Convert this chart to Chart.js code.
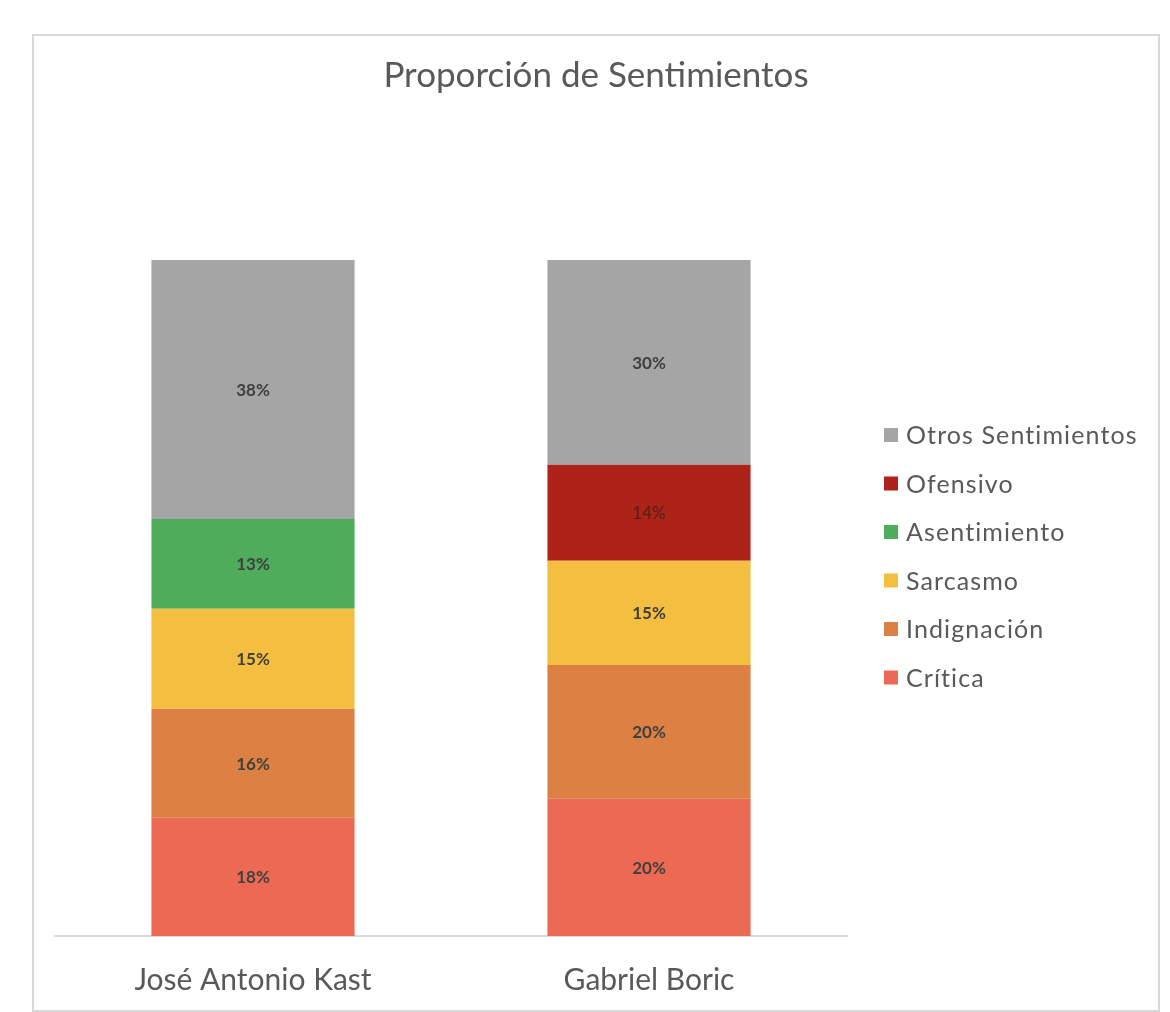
<!DOCTYPE html>
<html lang="es">
<head>
<meta charset="utf-8">
<title>Proporción de Sentimientos</title>
<script src="https://cdn.jsdelivr.net/npm/chart.js@4.4.1/dist/chart.umd.min.js"></script>
<style>
    html, body {
        margin: 0;
        padding: 0;
        background: #ffffff;
    }
    #wrap {
        position: relative;
        width: 1170px;
        height: 1012px;
        overflow: hidden;
    }
    #frame {
        position: absolute;
        left: 32px;
        top: 34px;
        width: 1128px;
        height: 978px;
        border: 2px solid #d9d9d9;
        box-sizing: border-box;
    }
    #sentChart {
        position: absolute;
        left: 0;
        top: 0;
    }
</style>
</head>
<body>
<div id="wrap">
    <div id="frame"></div>
    <canvas id="sentChart" width="1170" height="1012"></canvas>
</div>

<script>
// ===============================
// Proporción de Sentimientos
// ===============================

const candidates = ["José Antonio Kast", "Gabriel Boric"];

// values in % of each candidate (bottom to top of the stack)
const critica      = [17.5, 20.3];
const indignacion  = [16.1, 19.8];
const sarcasmo     = [14.8, 15.4];
const asentimiento = [13.3, 0];
const ofensivo     = [0, 14.2];
const otros        = [38.3, 30.3];

const yTicks = [0, 100];

const chartTitle = "Proporción de Sentimientos";

const FONT = "Lato, 'Open Sans', sans-serif";
const TEXT = "#595959";

// ---------- Title, centred on the whole frame ----------

const frameTitle = {
    id: "frameTitle",
    afterDraw(chart) {
        const c = chart.ctx;
        c.save();
        c.font = "35px " + FONT;
        c.fillStyle = TEXT;
        c.textAlign = "center";
        c.textBaseline = "middle";
        c.fillText(chartTitle, 596, 76);
        c.restore();
    }
};

// ---------- Value labels inside the bars ----------

const barLabels = {
    id: "barLabels",
    afterDatasetsDraw(chart) {
        const c = chart.ctx;
        c.save();
        c.textAlign = "center";
        c.textBaseline = "middle";
        chart.data.datasets.forEach((ds, i) => {
            const meta = chart.getDatasetMeta(i);
            meta.data.forEach((bar, j) => {
                const v = ds.data[j];
                if (!v) return;
                const mid = (bar.y + bar.base) / 2;
                c.font = (ds.labelWeight || "bold") + " 17px " + FONT;
                c.fillStyle = ds.labelColor || "#404040";
                c.fillText(Math.round(v) + "%", bar.x, mid + 1);
            });
        });
        c.restore();
    }
};

// ---------- Legend on the right (reversed order) ----------

const sideLegend = {
    id: "sideLegend",
    afterDraw(chart) {
        const c = chart.ctx;
        const x = 884;
        const y0 = 435;
        const step = 48.5;
        c.save();
        c.font = "25px " + FONT;
        c.letterSpacing = "1.1px";
        c.textBaseline = "middle";
        c.textAlign = "left";
        const list = chart.data.datasets.slice().reverse();
        list.forEach((ds, k) => {
            const y = y0 + k * step;
            c.fillStyle = ds.backgroundColor;
            c.fillRect(x, y - 7, 14, 14);
            c.fillStyle = TEXT;
            c.fillText(ds.label, x + 22, y + 1);
        });
        c.restore();
    }
};

// ---------- Chart ----------

const ctx = document.getElementById("sentChart");

new Chart(ctx, {
    type: "bar",
    data: {
        labels: candidates,
        datasets: [
            { label: "Crítica", data: critica, backgroundColor: "#ec6a53" },
            { label: "Indignación", data: indignacion, backgroundColor: "#dd8043" },
            { label: "Sarcasmo", data: sarcasmo, backgroundColor: "#f4bf41" },
            { label: "Asentimiento", data: asentimiento, backgroundColor: "#4fac5b" },
            { label: "Ofensivo", data: ofensivo, backgroundColor: "#ad2318",
              labelColor: "#4a2320", labelWeight: "normal" },
            { label: "Otros Sentimientos", data: otros, backgroundColor: "#a5a5a5" }
        ]
    },
    options: {
        responsive: false,
        animation: false,
        datasets: {
            bar: {
                barPercentage: 0.513,
                categoryPercentage: 1,
                borderWidth: 0
            }
        },
        layout: {
            padding: { left: 55, right: 323, top: 260, bottom: 0 }
        },
        plugins: {
            legend: { display: false },
            tooltip: { enabled: false },
            title: { display: false }
        },
        scales: {
            x: {
                stacked: true,
                grid: { display: false, drawTicks: false },
                border: { color: "#d9d9d9", width: 2 },
                ticks: {
                    color: TEXT,
                    padding: 26,
                    font: { family: FONT, size: 30 }
                },
                afterFit(scale) {
                    scale.height = 76;
                }
            },
            y: {
                stacked: true,
                display: false,
                min: yTicks[0],
                max: yTicks[yTicks.length - 1]
            }
        }
    },
    plugins: [barLabels, sideLegend, frameTitle]
});
</script>
</body>
</html>
